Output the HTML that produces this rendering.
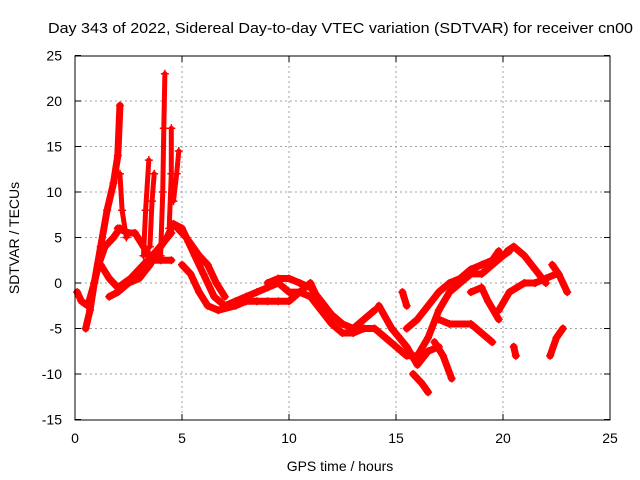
<!DOCTYPE html>
<html><head><meta charset="utf-8"><style>
body{margin:0;background:#fff}
svg{display:block;font-family:"Liberation Sans",sans-serif}
</style></head><body>
<svg id="chart" width="640" height="480" viewBox="0 0 640 480">
<rect x="0" y="0" width="640" height="480" fill="#fff"/>
<text x="48" y="33" font-size="15" textLength="585" lengthAdjust="spacingAndGlyphs">Day 343 of 2022, Sidereal Day-to-day VTEC variation (SDTVAR) for receiver cn00</text>
<g id="grid"></g>
<g id="marks"></g>
<rect x="75" y="56" width="535" height="364" fill="none" stroke="#000" stroke-width="1"/>
<g id="ticks"></g>
<text x="340" y="471" font-size="14" text-anchor="middle">GPS time / hours</text>
<text transform="translate(19,238) rotate(-90)" font-size="14" text-anchor="middle">SDTVAR / TECUs</text>
</svg>
<script>
const xTicks=[0,5,10,15,20,25];
const yTicks=[-15,-10,-5,0,5,10,15,20,25];
const track1=[[0.1,-1],[0.3,-2],[0.6,-2.5],[0.9,0],[1.2,4],[1.5,8],[1.8,11],[2.0,14],[2.1,19.5]];
const track2=[[0.5,-5],[0.7,-3],[0.9,0],[1.1,2],[1.4,4],[1.8,5],[2.1,6]];
const track3=[[1.6,-1.5],[2.0,-1],[2.5,0],[3.0,0.5],[3.5,2],[4.0,4],[4.3,5],[4.6,6.5],[5.0,6],[5.3,4.5],[5.6,3],[6.0,1],[6.5,-1.5],[7.0,-2.5],[7.5,-2],[8,-1.5],[8.5,-1],[9,-0.5],[9.5,0],[10,-1],[10.5,-1],[11,-1.5],[11.5,-3],[12,-4.5],[12.5,-5.5],[13,-5.5],[13.5,-5],[14,-5],[14.5,-6],[15,-7],[15.5,-8],[16,-8],[16.5,-6],[17,-3],[17.5,-1],[18,0],[18.5,1],[19,1],[19.5,2],[20,3],[20.3,3.5]];
const track4=[[2.0,6],[2.5,5.5],[2.8,5.5],[3.2,4],[3.6,2.5],[4.0,2.5],[4.5,2.5]];
const track5=[[4.8,6],[5.2,5],[5.5,4],[5.8,3],[6.2,2],[6.6,0],[7,-1.5]];
const track6=[[5.0,2],[5.4,1],[5.8,-1],[6.2,-2.5],[6.7,-3],[7.5,-2.5],[8,-2],[8.5,-2],[9,-2],[9.5,-2],[10,-2],[10.5,-1],[11,0],[11.3,-1.5]];
const track7=[[1.2,2],[1.6,0.5],[2.0,-0.5],[2.6,0.5],[3.2,2],[3.8,3.5],[4.5,5.5]];
const track8=[[9,0],[9.5,0.5],[10,0.5],[10.5,0],[11,-0.5],[11.5,-2],[12,-3.5],[12.5,-4.5],[13,-5],[13.5,-4],[14,-3]];
const track9=[[14.2,-2.5],[14.8,-5],[15.5,-7],[16,-9],[16.5,-7.5],[17,-7]];
const track10=[[15.8,-10],[16.2,-11],[16.5,-12]];
const track11=[[16.8,-6.5],[17.2,-8],[17.6,-10.5]];
const track12=[[15.5,-5],[16,-4],[16.5,-2.5],[17,-1],[17.5,0],[18,0.5],[18.5,1.5],[19,2],[19.5,2.5],[19.8,3.5]];
const track13=[[17,-4],[17.5,-4.5],[18.5,-4.5],[19,-5.5],[19.5,-6.5]];
const track14=[[18.5,-1],[19,-0.5],[19.3,-2],[19.8,-4]];
const track15=[[20.2,3.5],[20.5,4],[21,3],[21.5,1.5],[22,0]];
const track16=[[19.8,-3],[20.3,-1],[21,0],[21.5,0],[22,0.5],[22.5,1]];
const track17=[[22.3,2],[22.6,1],[23,-1]];
const track18=[[22.2,-8],[22.5,-6],[22.8,-5]];
const track19=[[20.5,-7],[20.6,-8]];
const track20=[[15.3,-1],[15.5,-2.5]];
const spike0=[[2.1,12],[2.2,8],[2.4,5]];
const spike1=[[3.2,3],[3.3,8],[3.45,13.5]];
const spike2=[[3.5,4],[3.6,9],[3.7,12]];
const spike3=[[4.0,3],[4.1,10],[4.15,17],[4.2,23]];
const spike4=[[4.4,6],[4.5,12],[4.5,17]];
const spike5=[[4.6,9],[4.75,12],[4.85,14.5]];
const tracks=[track1,track2,track3,track4,track5,track6,track7,track8,track9,track10,track11,track12,track13,track14,track15,track16,track17,track18,track19,track20];
const spikes=[spike0,spike1,spike2,spike3,spike4,spike5];
const NS='http://www.w3.org/2000/svg';
function sx(h){return 75+h*(535/25);}
function sy(v){return 283-v*9.1;}
const grid=document.getElementById('grid'),ticks=document.getElementById('ticks'),marks=document.getElementById('marks');
xTicks.forEach(t=>{
  const x=sx(t);
  if(t>0&&t<25){const l=document.createElementNS(NS,'line');
  
  
  l.setAttribute('x1',x);l.setAttribute('x2',x);l.setAttribute('y1',56);l.setAttribute('y2',420);
  l.setAttribute('stroke','#a0a0a0');l.setAttribute('stroke-dasharray','2,3');grid.appendChild(l);}
  const tk=document.createElementNS(NS,'path');
  
  
  tk.setAttribute('d',`M${x},420v-6M${x},56v6`);tk.setAttribute('stroke','#000');ticks.appendChild(tk);
  const tx=document.createElementNS(NS,'text');
  
  
  tx.setAttribute('x',x);tx.setAttribute('y',443);tx.setAttribute('font-size','14');tx.setAttribute('text-anchor','middle');
  tx.textContent=t;ticks.appendChild(tx);
});
yTicks.forEach(t=>{
  const y=sy(t);
  if(t>-15&&t<25){const l=document.createElementNS(NS,'line');
  
  
  l.setAttribute('x1',75);l.setAttribute('x2',610);l.setAttribute('y1',y);l.setAttribute('y2',y);
  l.setAttribute('stroke','#a0a0a0');l.setAttribute('stroke-dasharray','2,3');grid.appendChild(l);}
  const tk=document.createElementNS(NS,'path');
  
  
  tk.setAttribute('d',`M75,${y}h6M610,${y}h-6`);tk.setAttribute('stroke','#000');ticks.appendChild(tk);
  const tx=document.createElementNS(NS,'text');
  
  
  tx.setAttribute('x',62);tx.setAttribute('y',y+5);tx.setAttribute('font-size','14');tx.setAttribute('text-anchor','end');
  tx.textContent=t;ticks.appendChild(tx);
});
function drawTrack(tr,w){
  const p=document.createElementNS(NS,'polyline');
  
  
  p.setAttribute('points',tr.map(d=>sx(d[0])+','+sy(d[1])).join(' '));
  p.setAttribute('fill','none');p.setAttribute('stroke','#f00');p.setAttribute('stroke-width',w);
  p.setAttribute('stroke-linejoin','round');p.setAttribute('stroke-linecap','round');
  marks.appendChild(p);
  tr.forEach(d=>{
    const m=document.createElementNS(NS,'path');
    
    
    const x=sx(d[0]),y=sy(d[1]);
    m.setAttribute('d',`M${x-4},${y}h8M${x},${y-4}v8`);m.setAttribute('stroke','#f00');m.setAttribute('stroke-width','1.5');
    marks.appendChild(m);
  });
}
tracks.forEach(tr=>drawTrack(tr,7));
spikes.forEach(tr=>drawTrack(tr,5));
</script>
</body></html>
